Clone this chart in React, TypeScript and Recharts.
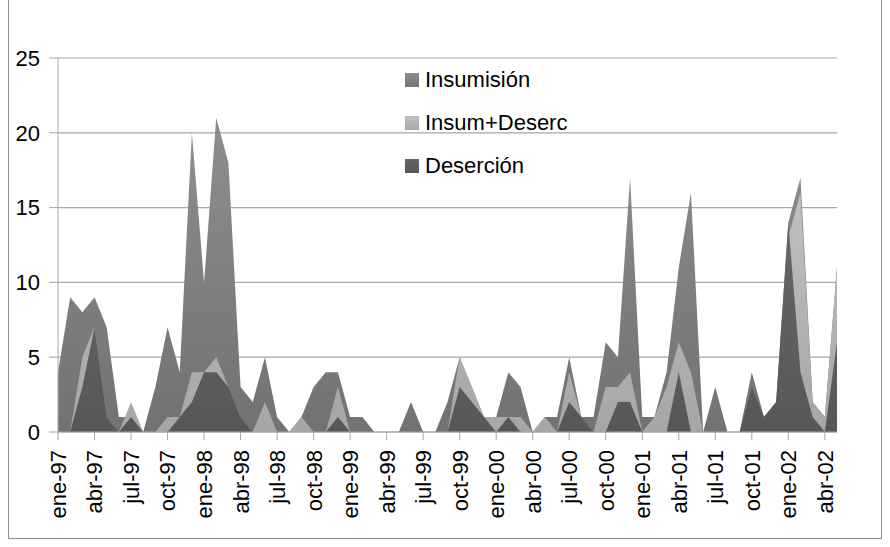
import { AreaChart, Area, XAxis, YAxis, CartesianGrid } from "recharts";

const months = [
  "ene-97", "feb-97", "mar-97", "abr-97", "may-97", "jun-97", "jul-97", "ago-97", "sep-97", "oct-97", "nov-97", "dic-97",
  "ene-98", "feb-98", "mar-98", "abr-98", "may-98", "jun-98", "jul-98", "ago-98", "sep-98", "oct-98", "nov-98", "dic-98",
  "ene-99", "feb-99", "mar-99", "abr-99", "may-99", "jun-99", "jul-99", "ago-99", "sep-99", "oct-99", "nov-99", "dic-99",
  "ene-00", "feb-00", "mar-00", "abr-00", "may-00", "jun-00", "jul-00", "ago-00", "sep-00", "oct-00", "nov-00", "dic-00",
  "ene-01", "feb-01", "mar-01", "abr-01", "may-01", "jun-01", "jul-01", "ago-01", "sep-01", "oct-01", "nov-01", "dic-01",
  "ene-02", "feb-02", "mar-02", "abr-02", "may-02",
];

const insumision = [
  4, 9, 8, 9, 7, 1, 1, 0, 3, 7, 4, 20,
  10, 21, 18, 3, 2, 5, 1, 0, 1, 3, 4, 4,
  1, 1, 0, 0, 0, 2, 0, 0, 2, 5, 3, 1,
  1, 4, 3, 0, 1, 1, 5, 1, 1, 6, 5, 17,
  1, 1, 4, 11, 16, 0, 3, 0, 0, 4, 1, 2,
  14, 17, 2, 1, 11,
];

const insumDeserc = [
  0, 0, 5, 7, 1, 0, 2, 0, 0, 1, 1, 4,
  4, 5, 3, 1, 0, 2, 0, 0, 1, 0, 0, 3,
  0, 0, 0, 0, 0, 0, 0, 0, 0, 5, 3, 1,
  1, 1, 1, 0, 1, 0, 4, 1, 0, 3, 3, 4,
  0, 1, 3, 6, 4, 0, 0, 0, 0, 0, 0, 0,
  13, 16, 2, 1, 11,
];

const desercion = [
  0, 0, 3, 7, 1, 0, 1, 0, 0, 0, 1, 2,
  4, 4, 3, 1, 0, 0, 0, 0, 0, 0, 0, 1,
  0, 0, 0, 0, 0, 0, 0, 0, 0, 3, 2, 1,
  0, 1, 0, 0, 0, 0, 2, 1, 0, 0, 2, 2,
  0, 0, 0, 4, 0, 0, 0, 0, 0, 3, 1, 2,
  14, 4, 1, 0, 6,
];

const yTicks = [0, 5, 10, 15, 20, 25];

const data = months.map((m, i) => ({
  month: m,
  insumision: insumision[i],
  insumDeserc: insumDeserc[i],
  desercion: desercion[i],
}));

const FONT = "'Liberation Sans', Arial, sans-serif";

const legendItems = [
  { name: "Insumisión", swatch: "linear-gradient(#8e8e8e, #747474)" },
  { name: "Insum+Deserc", swatch: "linear-gradient(#c0c0c0, #a8a8a8)" },
  { name: "Deserción", swatch: "linear-gradient(#666666, #555555)" },
];

function MonthTick(props: any) {
  const { x, y, payload } = props;
  return (
    <g transform={`translate(${x},${y + 10})`}>
      <text
        transform="rotate(-90) scale(1, 1)"
        textAnchor="end"
        dy="0.36em"
        fontSize={22}
        fontFamily={FONT}
        fill="#000"
      >
        {payload.value}
      </text>
    </g>
  );
}

function LegendBox() {
  return (
    <div
      style={{
        position: "absolute",
        left: 405,
        top: 58,
        fontFamily: FONT,
        fontSize: 22,
        color: "#000",
      }}
    >
      {legendItems.map((it) => (
        <div key={it.name} style={{ display: "flex", alignItems: "center", height: 43 }}>
          <span
            style={{
              display: "inline-block",
              width: 14,
              height: 14,
              background: it.swatch,
              marginRight: 6,
            }}
          />
          <span>{it.name}</span>
        </div>
      ))}
    </div>
  );
}

export default function App() {
  return (
    <div style={{ position: "absolute", left: 0, top: 0, width: 890, height: 547 }}>
      <div
        style={{
          position: "absolute",
          left: 8,
          top: -10,
          width: 874,
          height: 549,
          border: "1px solid #8c8c8c",
          boxSizing: "border-box",
        }}
      />
      <div style={{ position: "absolute", left: 0, top: 0 }}>
        <AreaChart
          width={890}
          height={547}
          data={data}
          margin={{ top: 58, right: 53, left: 8, bottom: 15 }}
        >
          <defs>
            <linearGradient id="gMed" x1="0" y1="0" x2="0" y2="1">
              <stop offset="0%" stopColor="#8e8e8e" />
              <stop offset="100%" stopColor="#727272" />
            </linearGradient>
            <linearGradient id="gLight" x1="0" y1="0" x2="0" y2="1">
              <stop offset="0%" stopColor="#c0c0c0" />
              <stop offset="100%" stopColor="#a6a6a6" />
            </linearGradient>
            <linearGradient id="gDark" x1="0" y1="0" x2="0" y2="1">
              <stop offset="0%" stopColor="#666666" />
              <stop offset="100%" stopColor="#575757" />
            </linearGradient>
          </defs>
          <CartesianGrid vertical={false} stroke="#a6a6a6" strokeWidth={1.2} />
          <XAxis
            dataKey="month"
            interval={2}
            tick={<MonthTick />}
            tickSize={8}
            tickMargin={0}
            height={100}
            stroke="#a6a6a6"
            tickLine={{ stroke: "#a6a6a6" }}
          />
          <YAxis
            domain={[0, 25]}
            ticks={yTicks}
            width={50}
            tickSize={9}
            tickMargin={9}
            stroke="#a6a6a6"
            tick={{ fontSize: 22, fontFamily: FONT, fill: "#000" }}
          />
          <Area
            type="linear"
            dataKey="insumision"
            name="Insumisión"
            fill="url(#gMed)"
            fillOpacity={1}
            stroke="none"
            isAnimationActive={false}
          />
          <Area
            type="linear"
            dataKey="insumDeserc"
            name="Insum+Deserc"
            fill="url(#gLight)"
            fillOpacity={1}
            stroke="none"
            isAnimationActive={false}
          />
          <Area
            type="linear"
            dataKey="desercion"
            name="Deserción"
            fill="url(#gDark)"
            fillOpacity={1}
            stroke="none"
            isAnimationActive={false}
          />
        </AreaChart>
      </div>
      <LegendBox />
    </div>
  );
}
